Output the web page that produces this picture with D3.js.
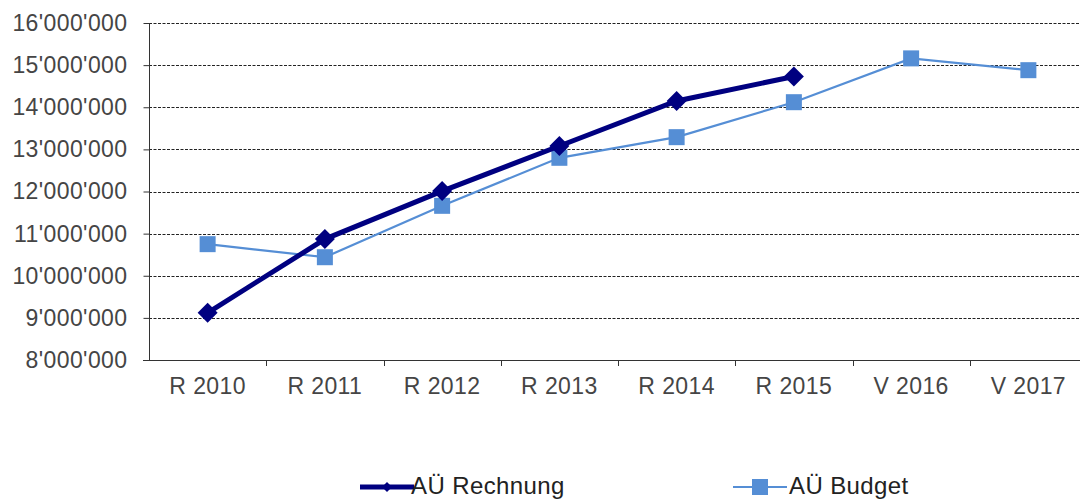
<!DOCTYPE html>
<html>
<head>
<meta charset="utf-8">
<script src="https://cdn.jsdelivr.net/npm/d3@7"></script>
<style>
  body { margin: 0; background: #fff; }
  svg { display: block; font-family: "Liberation Sans", Arial, sans-serif; }
</style>
</head>
<body>
<svg width="1080" height="501"></svg>
<script>
// data
var categories = ["R 2010", "R 2011", "R 2012", "R 2013", "R 2014", "R 2015", "V 2016", "V 2017"];
var rechnung = [9120000, 10870000, 12010000, 13080000, 14150000, 14730000, null, null];
var budget = [10750000, 10440000, 11660000, 12800000, 13290000, 14120000, 15160000, 14880000];
var yTicks = [8000000, 9000000, 10000000, 11000000, 12000000, 13000000, 14000000, 15000000, 16000000];

var svg = d3.select("svg");

var x = d3.scaleBand()
    .domain(categories)
    .range([149, 1087])
    .padding(0);

var y = d3.scaleLinear()
    .domain([8000000, 16000000])
    .range([360, 23]);

var fmt = function(v) { return d3.format(",d")(v).replace(/,/g, "'"); };

// gridlines
svg.append("g").selectAll("line.grid")
  .data(yTicks.slice(1))
  .enter().append("line")
    .attr("class", "grid")
    .attr("x1", 149).attr("x2", 1080)
    .attr("y1", function(d) { return Math.round(y(d)) + 0.5; })
    .attr("y2", function(d) { return Math.round(y(d)) + 0.5; })
    .attr("stroke", "#222")
    .attr("stroke-width", 1)
    .attr("stroke-dasharray", "3,1.5");

// y axis
var yAxis = svg.append("g")
    .attr("transform", "translate(149.5,0)")
    .call(d3.axisLeft(y).tickValues(yTicks).tickFormat(fmt).tickSize(6).tickPadding(16));
yAxis.select(".domain").attr("d", "M0," + y(16000000) + "V" + y(8000000)).attr("stroke", "#333");
yAxis.selectAll(".tick line").attr("stroke", "#333");
yAxis.selectAll("text")
    .attr("fill", "#454545")
    .style("font-size", "23px")
    .style("letter-spacing", "0.4px");

// x axis
var bounds = categories.map(function(c) { return x(c); });
bounds.push(x.range()[1]);
var xg = svg.append("g");
xg.append("line")
    .attr("x1", 143).attr("x2", 1080)
    .attr("y1", Math.round(y(8000000)) + 0.5).attr("y2", Math.round(y(8000000)) + 0.5)
    .attr("stroke", "#333");
xg.selectAll("line.xt")
  .data(bounds.slice(1))
  .enter().append("line")
    .attr("class", "xt")
    .attr("x1", function(d) { return Math.round(d) + 0.5; })
    .attr("x2", function(d) { return Math.round(d) + 0.5; })
    .attr("y1", y(8000000)).attr("y2", y(8000000) + 6)
    .attr("stroke", "#333");
xg.selectAll("text")
  .data(categories)
  .enter().append("text")
    .attr("x", function(d) { return x(d) + x.bandwidth() / 2; })
    .attr("y", 394)
    .attr("text-anchor", "middle")
    .attr("fill", "#454545")
    .style("font-size", "23px")
    .style("letter-spacing", "0.4px")
    .text(function(d) { return d; });

// budget series
var budgetPts = budget.map(function(v, i) { return { c: categories[i], v: v }; });
var line = d3.line()
    .defined(function(d) { return d.v != null; })
    .x(function(d) { return x(d.c) + x.bandwidth() / 2; })
    .y(function(d) { return y(d.v); });

svg.append("path")
    .datum(budgetPts)
    .attr("d", line)
    .attr("fill", "none")
    .attr("stroke", "#558ED5")
    .attr("stroke-width", 2.2);

svg.selectAll("rect.budget")
  .data(budgetPts)
  .enter().append("rect")
    .attr("class", "budget")
    .attr("x", function(d) { return x(d.c) + x.bandwidth() / 2 - 8; })
    .attr("y", function(d) { return y(d.v) - 8; })
    .attr("width", 16).attr("height", 16)
    .attr("fill", "#558ED5");

// rechnung series
var rechPts = rechnung.map(function(v, i) { return { c: categories[i], v: v }; });
svg.append("path")
    .datum(rechPts)
    .attr("d", line)
    .attr("fill", "none")
    .attr("stroke", "#000080")
    .attr("stroke-width", 5);

var diamond = d3.symbol().type(d3.symbolSquare).size(200);
svg.selectAll("path.rech")
  .data(rechPts.filter(function(d) { return d.v != null; }))
  .enter().append("path")
    .attr("class", "rech")
    .attr("d", diamond)
    .attr("transform", function(d) { return "translate(" + (x(d.c) + x.bandwidth() / 2) + "," + y(d.v) + ") rotate(45)"; })
    .attr("fill", "#000080");

// legend
var lg = svg.append("g");
lg.append("line").attr("x1", 360).attr("x2", 414).attr("y1", 487).attr("y2", 487)
    .attr("stroke", "#000080").attr("stroke-width", 5);
lg.append("path").attr("d", d3.symbol().type(d3.symbolSquare).size(50))
    .attr("transform", "translate(387,487) rotate(45)").attr("fill", "#000080");
lg.append("text").attr("x", 411).attr("y", 494).attr("fill", "#222")
    .style("font-size", "24px").style("letter-spacing", "0.4px").text("AÜ Rechnung");

lg.append("line").attr("x1", 733).attr("x2", 787).attr("y1", 487).attr("y2", 487)
    .attr("stroke", "#558ED5").attr("stroke-width", 2.2);
lg.append("rect").attr("x", 752).attr("y", 479).attr("width", 16).attr("height", 16)
    .attr("fill", "#558ED5");
lg.append("text").attr("x", 789).attr("y", 494).attr("fill", "#222")
    .style("font-size", "24px").style("letter-spacing", "0.4px").text("AÜ Budget");
</script>
</body>
</html>
